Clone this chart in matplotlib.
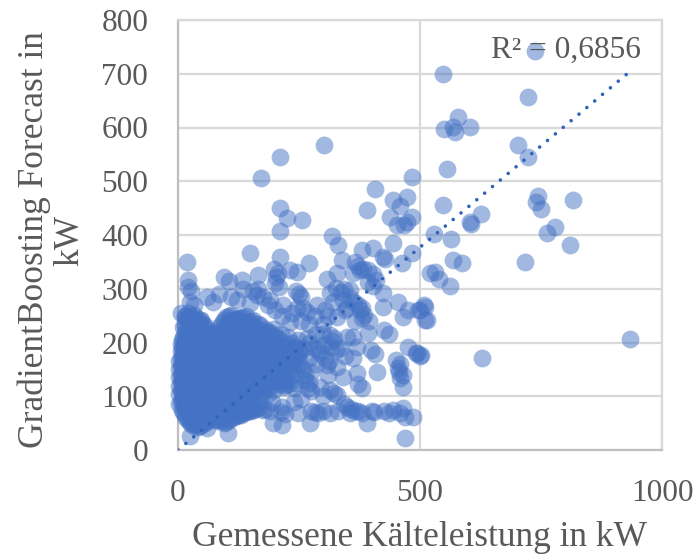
import numpy as np
import matplotlib
matplotlib.use('Agg')
import matplotlib.pyplot as plt

plt.rcParams['font.family'] = ['Liberation Serif', 'DejaVu Serif']

# sparse points (x kW, y kW)
upper_pts = [(738,742),(547,699),(724,656),(579,619),(550,597),(569,601),(572,592),(603,601),
    (703,567),(724,546),(555,523),(547,456),(744,472),(739,462),(749,448),(817,465),(627,440),
    (603,425),(778,414),(762,403),(810,381),(605,420),(529,402),(565,392),(717,350),(568,353),
    (586,347),(532,332),(540,319),(562,305),(508,270),(510,241),(500,260),(934,206),(629,171),
    (503,177),(494,180),(302,567),(211,545),(171,506),(484,507),(406,485),(391,447),(444,465),
    (474,471),(459,454),(211,450),(225,431),(257,427),(211,407),(439,433),(484,434),(474,425),
    (452,419),(466,419),(318,398),(331,381),(445,385),(380,372),(402,375),(424,359),(428,356),
    (484,366),(462,347),(149,366),(19,350),(211,360),(338,353),(271,347)]

mid_pts = [(21,316),(20,303),(26,296),(96,321),(106,314),(132,316),(166,325),(198,336),(206,330),
    (202,322),(200,310),(209,303),(231,335),(245,332),(307,318),(328,329),(366,350),(372,342),
    (382,336),(392,335),(402,328),(362,329),(521,329),(327,302),(337,294),(344,300),(314,292),
    (355,298),(376,335),(392,313),(402,306),(410,316),(355,283),(363,275),(375,260),(385,252),
    (380,246),(372,270),(380,264),(424,292),(424,266),(455,276),(465,248),(475,260),(496,260),
    (510,266),(514,242),(426,224),(436,216),(362,210),(393,217),(369,192),(398,186),(408,178),
    (362,171),(475,192),(491,181),(500,175),(450,168),(458,160),(454,152),(456,146),(464,140),
    (459,134),(411,145),(465,117),(371,123),(381,115),(370,143),(314,214),(322,208),(318,202),
    (316,192),(326,186),(303,172),(312,165),(308,158),(328,154),(341,136),(310,140),(315,112),
    (322,106),(328,102),(262,130),(270,124),(268,116),(293,117),(220,128),(230,122),(72,275),
    (154,296),(164,288),(149,273),(122,279),(190,279),(217,270),(243,296),(250,290),(254,284),
    (258,264),(266,256),(231,238),(287,270),(304,260),(328,248),(345,260),(267,208),(282,190),
    (290,186),(294,180),(242,190),(250,182),(221,121),(196,136),(25,276),(33,270),(6,254),
    (14,248),(45,242),(258,150),(270,172),(285,160),(248,205),(262,140),(240,115),(275,145)]

extra_pts = [(60,285),(85,290),(110,285),(135,300),(165,300),(175,285),(185,270),(200,260),
    (215,250),(235,255),(245,265),(255,240),(270,235),(283,250),(300,235),(310,250),(320,275),
    (340,280),(350,265),(365,240),(395,240),(300,215),(285,215),(270,200),(300,195),(335,190),
    (345,175),(350,210),(260,190),(235,200),(275,110),(300,100),(215,80),(195,90),(240,90),
    (255,95),(170,90),(175,75),(330,72),(300,72),(405,70),(435,68),(342,85),(355,68)]

low_pts = [(350,80),(358,77),(365,73),(372,73),(381,69),(400,72),(425,72),(445,74),(390,50),
    (465,78),(458,68),(468,62),(486,61),(469,22),(314,69),(275,73),(283,70),(290,68),(248,69),
    (273,50),(215,46),(180,76),(190,72),(212,71),(222,67),(197,50),(103,32),(60,41),(25,26)]

# dense blob near the origin, one y list per x column
dense_x = [3,8,14,20,27,34,41,48,56,63,72,80,90,100,110,120,130,140,150,160,170,180,192,205,220,235,250]
dense_y = [
    [85,105,120,135,150,165],
    [75,95,112,128,142,158,175,190,205],
    [65,82,98,118,132,150,168,182,198,215,232,250],
    [55,72,90,108,125,140,155,172,188,205,222,240,255],
    [48,62,80,100,115,133,148,165,180,195,212,228,245],
    [44,58,75,92,110,126,142,158,174,190,206,220,238,252],
    [42,55,70,88,105,120,136,152,168,185,200,215,232],
    [46,60,78,95,112,130,145,162,178,192,210,225,242],
    [50,66,85,100,118,135,150,165,182,198,214,230],
    [58,72,90,108,125,140,158,172,190,205,218],
    [62,78,95,112,128,145,160,178,195,210],
    [58,75,92,110,126,142,158,175,190,205,222],
    [55,70,88,105,120,138,155,170,186,202,220,236],
    [52,68,84,100,116,132,148,165,180,198,215,230,248],
    [60,76,92,108,125,140,156,172,190,206,222,240,252],
    [64,80,98,114,130,146,162,178,195,212,228,244],
    [66,82,100,118,134,150,168,184,200,216,232,246],
    [70,86,104,120,136,152,170,186,204,220,236,250],
    [72,90,108,124,140,158,174,190,208,224,240],
    [76,110,126,144,160,178,194,212,228],
    [118,132,148,165,182,198,215,232],
    [112,128,145,162,178,195,210,225],
    [120,135,152,170,186,205,218],
    [130,145,160,178,195,208],
    [118,140,158,172,190],
    [150,165,180],
    [160,170,185],
]

# second pass through the blob, between the columns above
fill_x = [6,11,17,24,31,38,45,52,60,68,76,85,95,105,115,125,135,145,155,165,175,186,198,212,228,242]
fill_y = [
    [90,110,125,138,155,170,185,198],
    [70,88,104,122,136,152,165,180,195,210,228],
    [60,78,95,112,130,145,162,178,194,210,226,244],
    [52,68,85,102,120,136,152,168,184,200,216,234,250],
    [50,65,84,96,118,130,146,162,176,192,208,224,240],
    [48,64,80,98,114,130,148,164,180,196,210,226,246],
    [44,58,74,92,108,124,140,156,172,188,204,220,236],
    [54,70,88,104,122,138,154,170,186,202,218,234],
    [54,70,92,112,128,144,160,176,194,208,224],
    [60,80,98,116,134,150,166,182,198,212],
    [56,70,86,102,118,134,152,168,184,200,216],
    [54,66,82,98,114,130,146,162,180,196,212,228],
    [50,62,78,94,110,126,142,160,176,192,208,224,242],
    [56,72,88,104,120,136,152,168,184,202,218,234,250],
    [62,78,94,110,126,144,160,176,192,208,226,242],
    [66,84,100,116,132,148,164,180,198,214,230,246],
    [68,84,102,118,136,154,170,188,204,220,234,248],
    [72,88,106,122,138,156,172,190,206,222,238],
    [74,92,110,128,144,160,176,192,210,226,242],
    [78,100,116,134,152,168,184,202,218,234],
    [108,124,140,158,174,190,206,222],
    [104,122,138,156,172,188,204,220],
    [112,128,146,164,180,196,212,226],
    [122,138,152,168,186,202,216],
    [130,148,164,178,196,210],
    [124,142,158,174,192],
]

trend_x = [0, 936]
trend_y = [0, 706]

x_ticks = [0, 500, 1000]
y_ticks = [0, 100, 200, 300, 400, 500, 600, 700, 800]

pts = np.array(upper_pts + mid_pts + extra_pts + low_pts)
xs = np.concatenate([pts[:, 0], np.repeat(dense_x, [len(c) for c in dense_y]),
                     np.repeat(fill_x, [len(c) for c in fill_y])])
ys = np.concatenate([pts[:, 1], np.concatenate(dense_y), np.concatenate(fill_y)])

fig = plt.figure(figsize=(6.97, 5.57), dpi=100)
ax = fig.add_axes([178/697, 1-450/557, 484/697, 430/557])

ax.scatter(xs, ys, s=165, color='#4472C4', alpha=0.5, linewidths=0, zorder=3, clip_on=False)
ax.plot(trend_x, trend_y, color='#2F62B8', lw=2.6, linestyle=(0, (0.01, 2.83)),
        dash_capstyle='round', zorder=4)

ax.set_xlim(0, 1000)
ax.set_ylim(0, 800)
ax.set_xticks(x_ticks)
ax.set_yticks(y_ticks)
ax.grid(True, color='#D9D9D9', lw=1.6, zorder=0)
ax.set_axisbelow(True)
ax.tick_params(length=0, labelsize=22.5, labelcolor='#595959')
ax.tick_params(axis='y', pad=21.5)
ax.tick_params(axis='x', pad=21)
for name, sp in ax.spines.items():
    sp.set_color('#D9D9D9' if name in ('top', 'right') else '#BFBFBF')
    sp.set_linewidth(1.6)

fig.text(641/697, 1-50/557, 'R² = 0,6856', fontsize=22.6, color='#595959',
         ha='right', va='center', zorder=5)

fig.text(420/697, 1-537/557, 'Gemessene Kälteleistung in kW', fontsize=25.5, color='#595959',
         ha='center', va='center')
fig.text(52/697, 1-240/557, 'GradientBoosting Forecast in\nkW', fontsize=25.5, color='#595959',
         rotation=90, ha='center', va='center', multialignment='center', linespacing=1.12)

fig.savefig('out.png', dpi=100)
